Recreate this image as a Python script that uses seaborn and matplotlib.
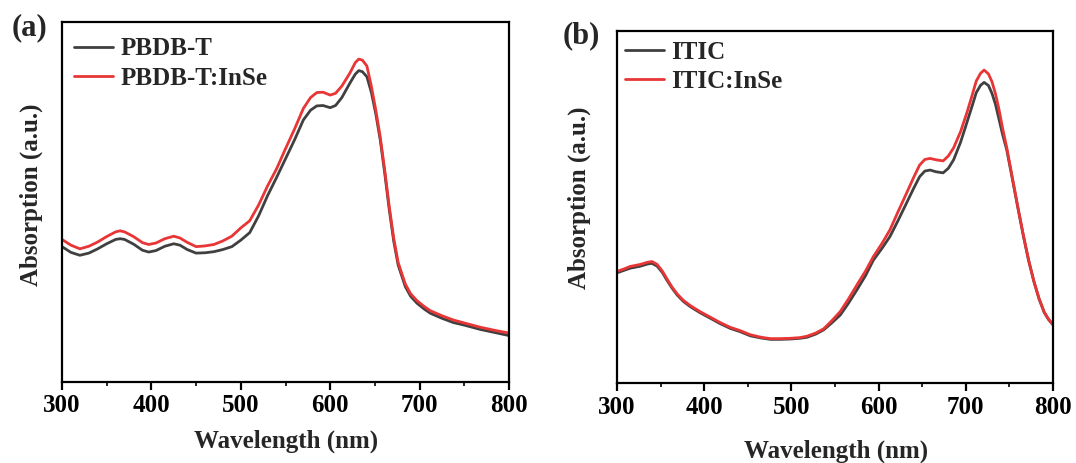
import numpy as np
import pandas as pd
import matplotlib
matplotlib.use("Agg")
import matplotlib.pyplot as plt
from matplotlib.ticker import MultipleLocator
import seaborn as sns

# ---- PBDB-T films (panel a) ----
wl_a = [300, 310, 320, 330, 340, 350, 360, 365, 370, 380, 390, 397, 405, 415,
        425, 432, 440, 450, 460, 470, 480, 490, 500, 510, 520, 530, 540, 550,
        560, 570, 578, 585, 592, 600, 606, 613, 622, 628, 632, 636, 641, 646,
        651, 656, 661, 666, 671, 676, 684, 690, 697, 705, 712, 725, 738, 750,
        768, 785, 800]
pbdbt = [0.376, 0.360, 0.352, 0.358, 0.370, 0.384, 0.396, 0.398, 0.396, 0.383,
         0.366, 0.361, 0.365, 0.377, 0.384, 0.380, 0.368, 0.358, 0.359, 0.362,
         0.368, 0.376, 0.394, 0.415, 0.462, 0.518, 0.568, 0.620, 0.672, 0.728,
         0.755, 0.767, 0.768, 0.762, 0.768, 0.790, 0.830, 0.855, 0.865, 0.862,
         0.848, 0.805, 0.745, 0.672, 0.580, 0.480, 0.392, 0.325, 0.265, 0.238,
         0.219, 0.203, 0.191, 0.177, 0.165, 0.158, 0.146, 0.137, 0.129]
pbdbt_inse = [0.396, 0.380, 0.370, 0.377, 0.389, 0.404, 0.417, 0.420, 0.417,
              0.404, 0.387, 0.382, 0.386, 0.398, 0.405, 0.400, 0.388, 0.376,
              0.378, 0.382, 0.392, 0.405, 0.428, 0.448, 0.492, 0.545, 0.592,
              0.648, 0.702, 0.760, 0.790, 0.804, 0.805, 0.797, 0.802, 0.822,
              0.858, 0.887, 0.897, 0.894, 0.878, 0.822, 0.755, 0.680, 0.588,
              0.488, 0.400, 0.332, 0.272, 0.245, 0.226, 0.210, 0.198, 0.184,
              0.172, 0.164, 0.152, 0.143, 0.136]

# ---- ITIC films (panel b) ----
wl_b = [300, 308, 315, 327, 335, 340, 346, 352, 357, 363, 369, 376, 384, 395,
        407, 418, 430, 441, 453, 465, 476, 488, 499, 510, 518, 528, 537, 546,
        556, 565, 575, 585, 594, 604, 613, 622, 632, 640, 647, 653, 659, 666,
        674, 680, 686, 694, 701, 707, 712, 717, 721, 726, 730, 734, 738, 742,
        747, 754, 760, 766, 772, 778, 784, 790, 795, 800]
itic = [0.313, 0.320, 0.326, 0.332, 0.338, 0.340, 0.332, 0.314, 0.293, 0.270,
        0.250, 0.232, 0.217, 0.200, 0.184, 0.169, 0.155, 0.146, 0.134, 0.128,
        0.124, 0.124, 0.125, 0.127, 0.130, 0.139, 0.151, 0.170, 0.193, 0.225,
        0.264, 0.305, 0.349, 0.383, 0.416, 0.460, 0.511, 0.552, 0.586, 0.602,
        0.605, 0.600, 0.597, 0.610, 0.634, 0.684, 0.738, 0.785, 0.825, 0.846,
        0.854, 0.845, 0.823, 0.792, 0.750, 0.708, 0.662, 0.572, 0.494, 0.418,
        0.348, 0.289, 0.239, 0.200, 0.180, 0.165]
itic_inse = [0.317, 0.324, 0.331, 0.337, 0.343, 0.345, 0.337, 0.318, 0.297,
             0.273, 0.253, 0.235, 0.220, 0.203, 0.187, 0.172, 0.158, 0.149,
             0.137, 0.130, 0.126, 0.126, 0.127, 0.129, 0.133, 0.142, 0.154,
             0.176, 0.203, 0.237, 0.278, 0.318, 0.359, 0.397, 0.435, 0.485,
             0.539, 0.583, 0.619, 0.635, 0.638, 0.634, 0.631, 0.645, 0.668,
             0.714, 0.766, 0.815, 0.858, 0.880, 0.889, 0.878, 0.856, 0.822,
             0.778, 0.726, 0.668, 0.575, 0.496, 0.420, 0.350, 0.290, 0.240,
             0.201, 0.181, 0.166]

x_ticks = [300, 400, 500, 600, 700, 800]
GREY = "#404040"
RED = "#e83535"

sns.set_style("ticks")
plt.rcParams["font.family"] = ["Liberation Serif", "DejaVu Serif"]
plt.rcParams["font.weight"] = "bold"
plt.rcParams["axes.labelweight"] = "bold"


def long_frame(wl, s1, n1, s2, n2):
    return pd.DataFrame({
        "Wavelength": list(wl) + list(wl),
        "Absorption": list(s1) + list(s2),
        "Sample": [n1] * len(wl) + [n2] * len(wl),
    })


fig = plt.figure(figsize=(10.76, 4.63), dpi=100)
ax_a = fig.add_axes([62 / 1076, 81 / 463, 447 / 1076, 360 / 463])
ax_b = fig.add_axes([617 / 1076, 80 / 463, 436 / 1076, 352 / 463])

panels = [
    (ax_a, long_frame(wl_a, pbdbt, "PBDB-T", pbdbt_inse, "PBDB-T:InSe"),
     "PBDB-T", "PBDB-T:InSe", (0.027, 0.957), (-0.043, 0.52), (0.501, -0.133)),
    (ax_b, long_frame(wl_b, itic, "ITIC", itic_inse, "ITIC:InSe"),
     "ITIC", "ITIC:InSe", (0.018, 0.973), (-0.060, 0.525), (0.502, -0.162)),
]

for ax, df, n1, n2, leg_xy, ylab_xy, xlab_xy in panels:
    sns.lineplot(data=df, x="Wavelength", y="Absorption", hue="Sample",
                 hue_order=[n1, n2], palette={n1: GREY, n2: RED},
                 estimator=None, lw=2.0, ax=ax)
    ax.set_xlim(300, 800)
    ax.set_ylim(0, 1)
    ax.set_xticks(x_ticks)
    ax.xaxis.set_minor_locator(MultipleLocator(50))
    ax.set_yticks([])
    for sp in ax.spines.values():
        sp.set_visible(True)
        sp.set_linewidth(1.6)
        sp.set_color("black")
    ax.tick_params(axis="x", which="major", direction="out", length=6,
                   width=1.6, pad=3, labelsize=18, colors="black")
    ax.tick_params(axis="x", which="minor", direction="out", length=3,
                   width=1.4)
    for lab in ax.get_xticklabels():
        lab.set_fontweight("bold")
    ax.set_xlabel("Wavelength (nm)", fontsize=18, fontweight="bold")
    ax.set_ylabel("Absorption (a.u.)", fontsize=18, fontweight="bold")
    ax.yaxis.set_label_coords(*ylab_xy)
    ax.xaxis.set_label_coords(*xlab_xy)
    ax.legend(loc="upper left", bbox_to_anchor=leg_xy, frameon=False,
              borderaxespad=0, borderpad=0, handlelength=1.55,
              handletextpad=0.3, labelspacing=0.25,
              prop={"family": "Liberation Serif", "weight": "bold", "size": 18})

fig.text(12 / 1076, 1 - 28 / 463, "(a)", fontsize=22, fontweight="bold",
         ha="left", va="center")
fig.text(563 / 1076, 1 - 36 / 463, "(b)", fontsize=22, fontweight="bold",
         ha="left", va="center")

fig.savefig("out.png", dpi=100)
